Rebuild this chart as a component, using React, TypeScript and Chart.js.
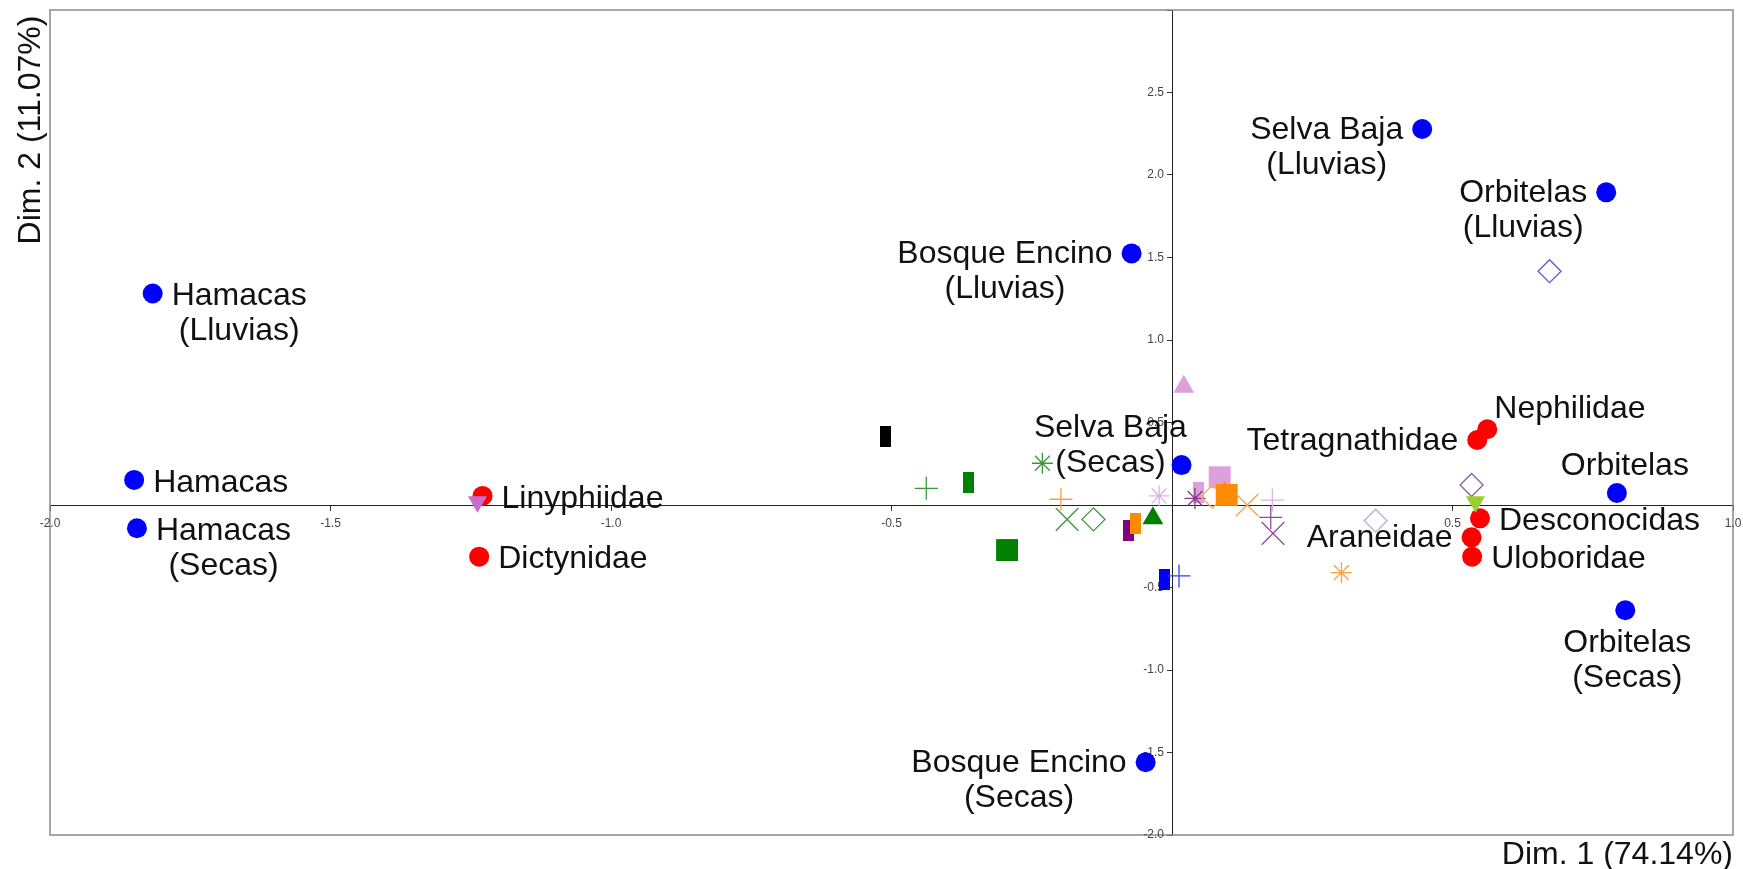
import React, { useEffect, useRef } from 'react';
import { Chart, registerables } from 'chart.js';

Chart.register(...registerables);

// ---------- data ----------
const siteLabels = [
  'Hamacas\n(Lluvias)', 'Hamacas', 'Hamacas\n(Secas)',
  'Bosque Encino\n(Lluvias)', 'Bosque Encino\n(Secas)',
  'Selva Baja\n(Lluvias)', 'Selva Baja\n(Secas)',
  'Orbitelas\n(Lluvias)', 'Orbitelas', 'Orbitelas\n(Secas)',
];
const siteX = [-1.817, -1.850, -1.845, -0.072, -0.047, 0.446, 0.017, 0.774, 0.793, 0.808];
const siteY = [1.282, 0.152, -0.141, 1.525, -1.559, 2.279, 0.242, 1.895, 0.073, -0.638];
const siteLabelSide = ['right', 'right', 'right', 'left', 'left', 'left', 'leftUp', 'left', 'above', 'below'];

const familyLabels = ['Linyphiidae', 'Dictynidae', 'Nephilidae', 'Tetragnathidae', 'Desconocidas', 'Araneidae', 'Uloboridae'];
const familyX = [-1.229, -1.235, 0.562, 0.544, 0.549, 0.534, 0.535];
const familyY = [0.055, -0.313, 0.459, 0.394, -0.081, -0.196, -0.313];
const familyLabelSide = ['right', 'right', 'upRight', 'left', 'right', 'left', 'right'];

// unlabeled category points (species)
const speciesX = [
  -0.510, -0.438, -0.362, -0.294, -0.231, -0.198, -0.187, -0.140, -0.078, -0.065,
  -0.034, -0.023, 0.021, 0.085, 0.048, 0.041, 0.072, 0.094, 0.0975, 0.134,
  0.179, 0.176, 0.180, -0.0125, 0.0125, 0.534, 0.363, 0.541, 0.302, 0.673,
  -1.238,
];
const speciesY = [
  0.414, 0.101, 0.135, -0.273, 0.253, 0.035, -0.087, -0.087, -0.156, -0.111,
  -0.081, 0.055, 0.717, 0.168, 0.075, 0.040, 0.050, 0.085, 0.061, 0.000,
  0.030, -0.075, -0.172, -0.450, -0.430, 0.121, -0.095, 0.020, -0.410, 1.417,
  0.020,
];

// axis ticks
const xTickStep = 0.5;
const yTickStep = 0.5;
const xRange = [-2, 1];
const yRange = [-2, 3];

// ---------- styles ----------
const speciesShape = [
  'bar', 'cross', 'bar', 'rect', 'star', 'cross', 'xcross', 'diamond', 'bar', 'bar',
  'tri', 'star', 'tri', 'rect', 'bar', 'star', 'diamond', 'triSmall', 'rect', 'xcross',
  'cross', 'cross', 'xcross', 'bar', 'cross', 'diamond', 'diamond', 'triDown', 'star', 'diamond',
  'triDown',
];
const speciesColor = [
  '#000000', '#3c963c', '#008000', '#008000', '#3c963c', '#f5a24a', '#3c963c', '#3c963c', '#800080', '#ff8c00',
  '#008000', '#e0b0e0', '#dda0dd', '#dda0dd', '#dda0dd', '#8a3a8a', '#f5b070', '#ff8c00', '#ff8c00', '#f5a24a',
  '#e0b0e0', '#8e4e9e', '#8e4e9e', '#0000ff', '#3a3aff', '#8e5ea8', '#c8a8d8', '#99d030', '#ff9f3a', '#5a5ae0',
  '#c86dd0',
];

const W = 1743;
const H = 869;
const FONT = '"Liberation Sans", Arial, Helvetica, sans-serif';

function makeBar(color: string) {
  const c = document.createElement('canvas');
  c.width = 11;
  c.height = 21;
  const g = c.getContext('2d')!;
  g.fillStyle = color;
  g.fillRect(0, 0, 11, 21);
  return c;
}

function styleFor(shape: string, color: string) {
  switch (shape) {
    case 'bar':
      return { style: makeBar(color), r: 10, rot: 0, bg: color, bc: color, bw: 0 };
    case 'rect':
      return { style: 'rect', r: 15.5, rot: 0, bg: color, bc: color, bw: 0 };
    case 'tri':
      return { style: 'triangle', r: 12, rot: 0, bg: color, bc: color, bw: 0 };
    case 'triSmall':
      return { style: 'triangle', r: 10, rot: 0, bg: color, bc: color, bw: 0 };
    case 'triDown':
      return { style: 'triangle', r: 11, rot: 180, bg: color, bc: color, bw: 0 };
    case 'cross':
      return { style: 'cross', r: 11.5, rot: 0, bg: 'rgba(0,0,0,0)', bc: color, bw: 1.3 };
    case 'xcross':
      return { style: 'crossRot', r: 16, rot: 0, bg: 'rgba(0,0,0,0)', bc: color, bw: 1.3 };
    case 'star':
      return { style: 'star', r: 10.5, rot: 0, bg: 'rgba(0,0,0,0)', bc: color, bw: 1.3 };
    case 'diamond':
    default:
      return { style: 'rectRot', r: 11.5, rot: 0, bg: 'rgba(0,0,0,0)', bc: color, bw: 1.3 };
  }
}

function drawBlock(ctx: CanvasRenderingContext2D, text: string, px: number, py: number, side: string) {
  const lines = text.split('\n');
  const widths = lines.map((l) => ctx.measureText(l).width);
  const w = Math.max(...widths);
  const lh = 35;
  const gap = 19;
  let cx = px;
  let y0 = py;
  switch (side) {
    case 'right':
      cx = px + gap + w / 2; y0 = py + 3; break;
    case 'left':
      cx = px - gap - w / 2; y0 = py + 1; break;
    case 'above':
      cx = px + 8; y0 = py - 27; break;
    case 'below':
      cx = px + 2; y0 = py + 33; break;
    case 'leftUp':
      cx = px - 16 - widths[lines.length - 1] / 2; y0 = py - lh * (lines.length - 1) - 2; break;
    case 'upRight':
      cx = px + 7 + w / 2; y0 = py - 20; break;
  }
  lines.forEach((l, i) => ctx.fillText(l, cx, y0 + i * lh));
}

const fmt = (n: number) => n.toFixed(1);

export default function App() {
  const ref = useRef<HTMLCanvasElement>(null);

  useEffect(() => {
    const canvas = ref.current!;
    const sp = speciesShape.map((s, i) => styleFor(s, speciesColor[i]));

    const annot = {
      id: 'annot',
      beforeDraw(chart: any) {
        const { ctx } = chart;
        ctx.save();
        ctx.fillStyle = '#ffffff';
        ctx.fillRect(0, 0, chart.width, chart.height);
        ctx.restore();
      },
      beforeDatasetsDraw(chart: any) {
        const { ctx, chartArea: a } = chart;
        const xs = chart.scales.x;
        const ys = chart.scales.y;
        ctx.save();
        ctx.strokeStyle = '#8a8a8a';
        ctx.lineWidth = 1.5;
        ctx.strokeRect(a.left, a.top, a.right - a.left, a.bottom - a.top);
        // tick labels (from the library's scales)
        const axisY = ys.getPixelForValue(0);
        const axisX = xs.getPixelForValue(0);
        ctx.font = `12px ${FONT}`;
        ctx.fillStyle = '#444444';
        ctx.textBaseline = 'middle';
        ctx.textAlign = 'center';
        xs.ticks.forEach((t: any) => {
          if (Math.abs(t.value) < 1e-9) return;
          ctx.fillText(fmt(t.value), xs.getPixelForValue(t.value), axisY + 19);
        });
        ctx.textAlign = 'right';
        ys.ticks.forEach((t: any) => {
          if (Math.abs(t.value) < 1e-9 || Math.abs(t.value - yRange[1]) < 1e-9) return;
          ctx.fillText(fmt(t.value), axisX - 8, ys.getPixelForValue(t.value));
        });
        ctx.restore();
      },
      afterDatasetsDraw(chart: any) {
        const { ctx } = chart;
        const xs = chart.scales.x;
        const ys = chart.scales.y;
        ctx.save();
        ctx.font = `32px ${FONT}`;
        ctx.fillStyle = '#111111';
        ctx.textAlign = 'center';
        ctx.textBaseline = 'middle';
        siteLabels.forEach((t, i) => {
          drawBlock(ctx, t, xs.getPixelForValue(siteX[i]), ys.getPixelForValue(siteY[i]), siteLabelSide[i]);
        });
        familyLabels.forEach((t, i) => {
          drawBlock(ctx, t, xs.getPixelForValue(familyX[i]), ys.getPixelForValue(familyY[i]), familyLabelSide[i]);
        });
        ctx.restore();
      },
      afterDraw(chart: any) {
        const { ctx, chartArea: a } = chart;
        ctx.save();
        ctx.font = `32px ${FONT}`;
        ctx.fillStyle = '#111111';
        ctx.textBaseline = 'middle';
        ctx.textAlign = 'right';
        ctx.fillText('Dim. 1 (74.14%)', a.right, 855);
        ctx.translate(31, 130);
        ctx.rotate(-Math.PI / 2);
        ctx.textAlign = 'center';
        ctx.fillText('Dim. 2 (11.07%)', 0, 0);
        ctx.restore();
      },
    };

    const chart = new Chart(canvas, {
      type: 'scatter',
      data: {
        datasets: [
          {
            label: 'Sitios',
            data: siteX.map((x, i) => ({ x, y: siteY[i] })),
            pointStyle: 'circle',
            pointRadius: 10,
            pointBackgroundColor: '#0000ff',
            pointBorderColor: '#0000ff',
            pointBorderWidth: 0,
            order: 3,
          },
          {
            label: 'Familias',
            data: familyX.map((x, i) => ({ x, y: familyY[i] })),
            pointStyle: 'circle',
            pointRadius: 10,
            pointBackgroundColor: '#ff0000',
            pointBorderColor: '#ff0000',
            pointBorderWidth: 0,
            order: 2,
          },
          {
            label: 'Especies',
            data: speciesX.map((x, i) => ({ x, y: speciesY[i] })),
            pointStyle: sp.map((s) => s.style) as any,
            pointRadius: sp.map((s) => s.r),
            pointRotation: sp.map((s) => s.rot),
            pointBackgroundColor: sp.map((s) => s.bg),
            pointBorderColor: sp.map((s) => s.bc),
            pointBorderWidth: sp.map((s) => s.bw),
            order: 1,
          },
        ],
      },
      options: {
        animation: false,
        responsive: false,
        maintainAspectRatio: false,
        events: [],
        layout: { autoPadding: false, padding: { left: 50, right: 10, top: 10, bottom: 34 } },
        plugins: { legend: { display: false }, tooltip: { enabled: false } },
        scales: {
          x: {
            type: 'linear',
            min: xRange[0],
            max: xRange[1],
            position: { y: 0 } as any,
            ticks: { stepSize: xTickStep, autoSkip: false, display: false },
            grid: { drawOnChartArea: false, drawTicks: true, tickLength: 5, color: '#333333' },
            border: { display: true, color: '#222222', width: 1 },
          },
          y: {
            type: 'linear',
            min: yRange[0],
            max: yRange[1],
            position: { x: 0 } as any,
            ticks: { stepSize: yTickStep, autoSkip: false, display: false },
            grid: { drawOnChartArea: false, drawTicks: true, tickLength: 5, color: '#333333' },
            border: { display: true, color: '#222222', width: 1 },
          },
        },
      },
      plugins: [annot],
    });

    return () => chart.destroy();
  }, []);

  return (
    <div style={{ position: 'fixed', left: 0, top: 0, width: W, height: H, background: '#ffffff' }}>
      <canvas ref={ref} width={W} height={H} style={{ display: 'block', width: W, height: H }} />
    </div>
  );
}
